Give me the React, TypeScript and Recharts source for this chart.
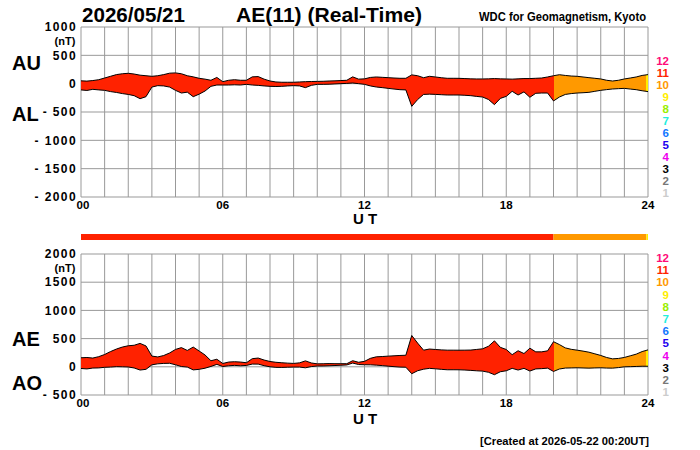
import React from 'react';
import { ComposedChart, BarChart, Bar, Area, XAxis, YAxis, CartesianGrid } from 'recharts';

// UT hours, quarter-hour steps 00:00 .. 24:00
const hours = Array.from({ length: 97 }, (_, i) => i / 4);

// AU (upper) and AL (lower), nT, every 15 min
const au = [
  50, 45, 55, 70, 100, 130, 160, 175, 183, 170, 150, 140,
  130, 140, 160, 185, 190, 175, 140, 120, 95, 80, 60, 110,
  35, 60, 70, 60, 60, 120, 125, 80, 47, 30, 25, 25,
  25, 30, 35, 38, 40, 42, 47, 50, 55, 60, 120, 80,
  85, 110, 118, 112, 106, 100, 95, 95, 155, 140, 105, 130,
  118, 105, 95, 95, 94, 90, 85, 83, 83, 85, 90, 85,
  83, 80, 85, 90, 90, 95, 100, 118, 140, 158, 145, 135,
  130, 118, 106, 95, 83, 60, 47, 60, 83, 100, 118, 145,
  160,
];
const al = [
  -110, -120, -100, -110, -118, -140, -155, -175, -190, -212, -265, -230,
  -60, -35, -40, -60, -118, -165, -150, -230, -185, -130, -47, -24,
  -24, -24, -20, -24, -12, -24, -30, -40, -47, -50, -47, -40,
  -35, -40, -70, -30, -12, -12, -10, -5, 0, 5, 12, 0,
  -12, -40, -59, -70, -83, -95, -106, -110, -400, -280, -190, -185,
  -189, -195, -200, -200, -200, -205, -212, -225, -236, -280, -370, -260,
  -224, -135, -200, -145, -240, -170, -165, -165, -305, -236, -190, -175,
  -165, -160, -153, -135, -118, -105, -94, -88, -83, -95, -106, -125,
  -140,
];

// number of contributing stations over the day (UT hours)
const stationSegments = [
  { from: 0, to: 20, count: 11 },
  { from: 20, to: 23.93, count: 10 },
  { from: 23.93, to: 24, count: 9 },
];

// colour key for station counts 1..12
const countLabels = [12, 11, 10, 9, 8, 7, 6, 5, 4, 3, 2, 1];
const countColors: Record<number, string> = {
  12: '#ff0a78', 11: '#ff2200', 10: '#ff9900', 9: '#ffee00', 8: '#99ee00', 7: '#22eedd',
  6: '#1177ff', 5: '#2200ee', 4: '#ee00ee', 3: '#000000', 2: '#777777', 1: '#cccccc',
};

const hourTicks = Array.from({ length: 25 }, (_, i) => i);
const topTicks = [-2000, -1500, -1000, -500, 0, 500, 1000];
const bottomTicks = [-500, 0, 500, 1000, 1500, 2000];

const FONT = "'Liberation Sans', Arial, Helvetica, sans-serif";

const topRows = hours.map((t, i) => ({ t, range: [al[i], au[i]] }));
const bottomRows = hours.map((t, i) => {
  const ae = au[i] - al[i];
  const ao = (au[i] + al[i]) / 2;
  return { t, range: [ao, ae] };
});
const barRow = [
  stationSegments.reduce((acc: any, s, i) => ({ ...acc, ['s' + i]: s.to - s.from }), { name: 'n' }),
];

const fmtNt = (v: number) => (v < 0 ? `- ${-v}` : `${v}`);

const StationGradient = ({ id }: { id: string }) => (
  <defs>
    <linearGradient id={id} x1="0" y1="0" x2="1" y2="0">
      {stationSegments.flatMap((s, i) => [
        <stop key={i + 'a'} offset={s.from / 24} stopColor={countColors[s.count]} />,
        <stop key={i + 'b'} offset={s.to / 24} stopColor={countColors[s.count]} />,
      ])}
    </linearGradient>
  </defs>
);

const yTick = { fontFamily: FONT, fontSize: 12, fontWeight: 'bold', fill: '#000', letterSpacing: 1.4 };

// hour tick: label only every 6 h, first label nudged right as in the original
const HourTick = ({ x, y, payload }: any) => {
  const v = payload.value;
  if (v % 6 !== 0) return null;
  return (
    <text x={x + (v === 0 ? 2 : 0)} y={y + 2} dy="0.71em" textAnchor="middle"
      fontFamily={FONT} fontSize={11.5} fontWeight="bold" fill="#000">
      {String(v).padStart(2, '0')}
    </text>
  );
};

const Panel = ({ rows, domain, ticks, gradId, marginTop, marginBottom, height }: any) => (
  <ComposedChart width={700} height={height} data={rows}
    margin={{ top: marginTop, right: 52, bottom: marginBottom, left: 31 }}>
    <StationGradient id={gradId} />
    <CartesianGrid stroke="#999" strokeWidth={1} />
    <XAxis dataKey="t" type="number" domain={[0, 24]} ticks={hourTicks} interval={0}
      axisLine={false} tickLine={false} tickSize={0} height={20} tick={<HourTick />} />
    <YAxis type="number" domain={domain} ticks={ticks} interval={0} tickFormatter={fmtNt}
      axisLine={false} tickLine={false} tickSize={4} tickMargin={0} width={50} tick={yTick} />
    <Area type="linear" dataKey="range" stroke="#000" strokeWidth={1} fill={`url(#${gradId})`}
      fillOpacity={1} dot={false} activeDot={false} isAnimationActive={false} />
  </ComposedChart>
);

export default function App() {
  return (
    <div style={{ position: 'absolute', left: 0, top: 0, width: 700, height: 450, background: '#fff', overflow: 'hidden' }}>
      <div style={{ position: 'absolute', left: 0, top: 0 }}>
        <Panel rows={topRows} domain={[-2000, 1000]} ticks={topTicks} gradId="fillTop"
          marginTop={27} marginBottom={8} height={225} />
      </div>
      <div style={{ position: 'absolute', left: 0, top: 225 }}>
        <Panel rows={bottomRows} domain={[-500, 2000]} ticks={bottomTicks} gradId="fillBottom"
          marginTop={29} marginBottom={35} height={225} />
      </div>
      <div style={{ position: 'absolute', left: 0, top: 234 }}>
        <BarChart width={700} height={6} data={barRow} layout="vertical" barCategoryGap={0}
          margin={{ top: 0, right: 52, bottom: 0, left: 81 }}>
          <XAxis type="number" domain={[0, 24]} hide />
          <YAxis type="category" dataKey="name" hide />
          {stationSegments.map((s, i) => (
            <Bar key={i} dataKey={'s' + i} stackId="a" fill={countColors[s.count]} isAnimationActive={false} />
          ))}
        </BarChart>
      </div>
      <svg width={700} height={450} style={{ position: 'absolute', left: 0, top: 0, pointerEvents: 'none' }}
        fontFamily={FONT} fontWeight="bold">
        <text x={82} y={22} fontSize={20} textLength={103} lengthAdjust="spacingAndGlyphs">2026/05/21</text>
        <text x={236} y={22} fontSize={20} textLength={186} lengthAdjust="spacingAndGlyphs">AE(11) (Real-Time)</text>
        <text x={479} y={21} fontSize={12} textLength={167} lengthAdjust="spacingAndGlyphs">WDC for Geomagnetism, Kyoto</text>
        <text x={65} y={45} fontSize={11} textAnchor="middle">(nT)</text>
        <text x={65} y={272} fontSize={11} textAnchor="middle">(nT)</text>
        <text x={12} y={70} fontSize={20}>AU</text>
        <text x={12} y={121} fontSize={20}>AL</text>
        <text x={12} y={346} fontSize={20}>AE</text>
        <text x={12} y={390} fontSize={20}>AO</text>
        <text x={365} y={224} fontSize={15} textAnchor="middle">U T</text>
        <text x={365} y={424} fontSize={15} textAnchor="middle">U T</text>
        {countLabels.map((c, i) => (
          <text key={'t' + c} x={669} y={65 + i * 12} fontSize={11.5} textAnchor="end" fill={countColors[c]}>{c}</text>
        ))}
        {countLabels.map((c, i) => (
          <text key={'b' + c} x={669} y={262 + i * 12.2} fontSize={11.5} textAnchor="end" fill={countColors[c]}>{c}</text>
        ))}
        <text x={480} y={445} fontSize={11} textLength={169} lengthAdjust="spacingAndGlyphs">[Created at 2026-05-22 00:20UT]</text>
      </svg>
    </div>
  );
}
